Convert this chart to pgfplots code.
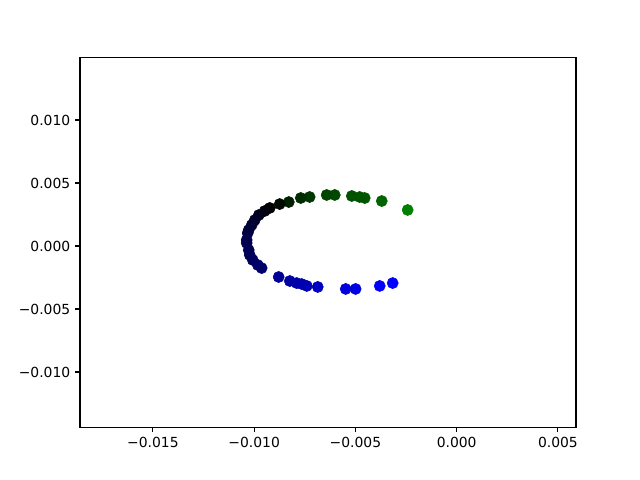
\documentclass[border=0pt]{standalone}
\usepackage{fontspec}
\setmainfont{DejaVu Sans}
\usepackage{pgfplots}
\pgfplotsset{compat=1.18}

\pgfplotstableread{
x y c
-0.00242 0.00286 1.00
-0.00370 0.00357 0.78
-0.00454 0.00381 0.68
-0.00479 0.00389 0.66
-0.00518 0.00397 0.63
-0.00602 0.00405 0.56
-0.00642 0.00405 0.53
-0.00726 0.00389 0.42
-0.00770 0.00381 0.35
-0.00829 0.00349 0.25
-0.00874 0.00333 0.08
-0.00923 0.00302 0.00
-0.00948 0.00278 -0.05
-0.00977 0.00246 -0.10
-0.00997 0.00206 -0.15
-0.01012 0.00167 -0.20
-0.01027 0.00127 -0.22
-0.01032 0.00103 -0.25
-0.01037 0.00048 -0.30
-0.01037 0.00024 -0.30
-0.01027 -0.00032 -0.33
-0.01022 -0.00071 -0.35
-0.01007 -0.00111 -0.37
-0.00982 -0.00151 -0.40
-0.00963 -0.00175 -0.42
-0.00879 -0.00246 -0.58
-0.00824 -0.00278 -0.64
-0.00790 -0.00294 -0.66
-0.00765 -0.00302 -0.68
-0.00740 -0.00317 -0.70
-0.00686 -0.00325 -0.76
-0.00548 -0.00341 -0.86
-0.00499 -0.00341 -0.88
-0.00380 -0.00317 -0.98
-0.00316 -0.00294 -1.00
}\orbit

\begin{document}
\begin{tikzpicture}
\begin{axis}[
  scale only axis, width=357pt, height=266pt,
  xmin=-0.0186, xmax=0.00589, ymin=-0.01438, ymax=0.01495,
  axis line style={line width=0.8pt}, tick style={black, line width=0.8pt},
  tick align=outside, major tick length=3.5pt,
  xtick={-0.015,-0.010,-0.005,0,0.005},
  xticklabels={−0.015,−0.010,−0.005,0.000,0.005},
  ytick={-0.010,-0.005,0,0.005,0.010},
  yticklabels={−0.010,−0.005,0.000,0.005,0.010},
  xtick pos=bottom, ytick pos=left,
  tick label style={font=\fontsize{10pt}{12pt}\selectfont},
  scaled ticks=false,
  colormap={gkb}{rgb255(0cm)=(0,0,255); rgb255(1cm)=(0,0,0); rgb255(2cm)=(0,128,0)},
  point meta min=-1, point meta max=1,
]
\addplot[scatter, only marks, mark=*, mark size=4pt, point meta=explicit,
  scatter/use mapped color={draw=mapped color, fill=mapped color}]
  table[x=x, y=y, meta=c] {\orbit};
\end{axis}
\useasboundingbox ([shift={(-57.6pt,-38pt)}]current axis.south west) rectangle ([shift={(46.1pt,41.5pt)}]current axis.north east);
\end{tikzpicture}
\end{document}
